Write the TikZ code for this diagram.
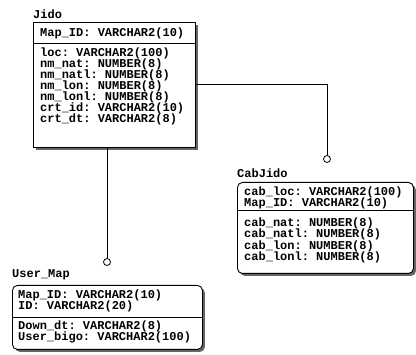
\documentclass[tikz,border=0pt]{standalone}
\usepackage{fontspec}
\setmonofont{Liberation Mono}
\usetikzlibrary{shadows}
\begin{document}
\begin{tikzpicture}[x=1pt,y=-1pt,
  ent/.style={draw, line width=0.9pt, fill=white, inner sep=0pt, anchor=north west,
     drop shadow={shadow xshift=2.5pt, shadow yshift=-2.5pt, fill=black!60, opacity=1}},
  dep/.style={ent, rounded corners=5pt},
  sepline/.style={line width=0.8pt},
  row/.style={anchor=west, inner sep=0pt, font=\fontsize{12}{12}\selectfont\ttfamily\bfseries},
  lbl/.style={row},
  rel/.style={line width=0.8pt},
  circ/.style={draw, circle, line width=0.8pt, fill=white, minimum size=7pt, inner sep=0pt}]
\useasboundingbox (0,0) rectangle (416,355);
% Jido
\node[lbl] (jidolbl) at (33,14) {Jido};
\node[ent, minimum width=162pt, minimum height=125pt] (jido) at (33,22) {};
\draw[sepline] (33,43) -- (195,43);
\node[row] (j0) at (40,33) {Map\_ID: VARCHAR2(10)};
\foreach \t [count=\i] in {loc: VARCHAR2(100), nm\_nat: NUMBER(8), nm\_natl: NUMBER(8), nm\_lon: NUMBER(8), nm\_lonl: NUMBER(8), crt\_id: VARCHAR2(10), crt\_dt: VARCHAR2(8)}
  \node[row] (j\i) at (40,{42+11*\i}) {\t};
% CabJido
\node[lbl] (cablbl) at (237,173) {CabJido};
\node[dep, minimum width=176pt, minimum height=91pt] (cab) at (237,182) {};
\draw[sepline] (237,210) -- (413,210);
\node[row] (k1) at (244,192) {cab\_loc: VARCHAR2(100)};
\node[row] (k2) at (244,203) {Map\_ID: VARCHAR2(10)};
\foreach \t [count=\i] in {cab\_nat: NUMBER(8), cab\_natl: NUMBER(8), cab\_lon: NUMBER(8), cab\_lonl: NUMBER(8)}
  \node[row] (c\i) at (244,{211.5+11.5*\i}) {\t};
% User_Map
\node[lbl] (umlbl) at (12,275) {User\_Map};
\node[dep, minimum width=190pt, minimum height=64pt] (um) at (12,285) {};
\draw[sepline] (12,317) -- (202,317);
\node[row] (u1) at (18,295) {Map\_ID: VARCHAR2(10)};
\node[row] (u2) at (18,306) {ID: VARCHAR2(20)};
\node[row] (u3) at (18,326) {Down\_dt: VARCHAR2(8)};
\node[row] (u4) at (18,337) {User\_bigo: VARCHAR2(100)};
% relationships
\node[circ] (o1) at (327,159) {};
\node[circ] (o2) at (107,262) {};
\coordinate (y84) at (0,84);
\draw[rel] (jido.east |- y84) -| (o1);
\draw[rel] (jido.south -| o2) -- (o2);
\end{tikzpicture}
\end{document}
